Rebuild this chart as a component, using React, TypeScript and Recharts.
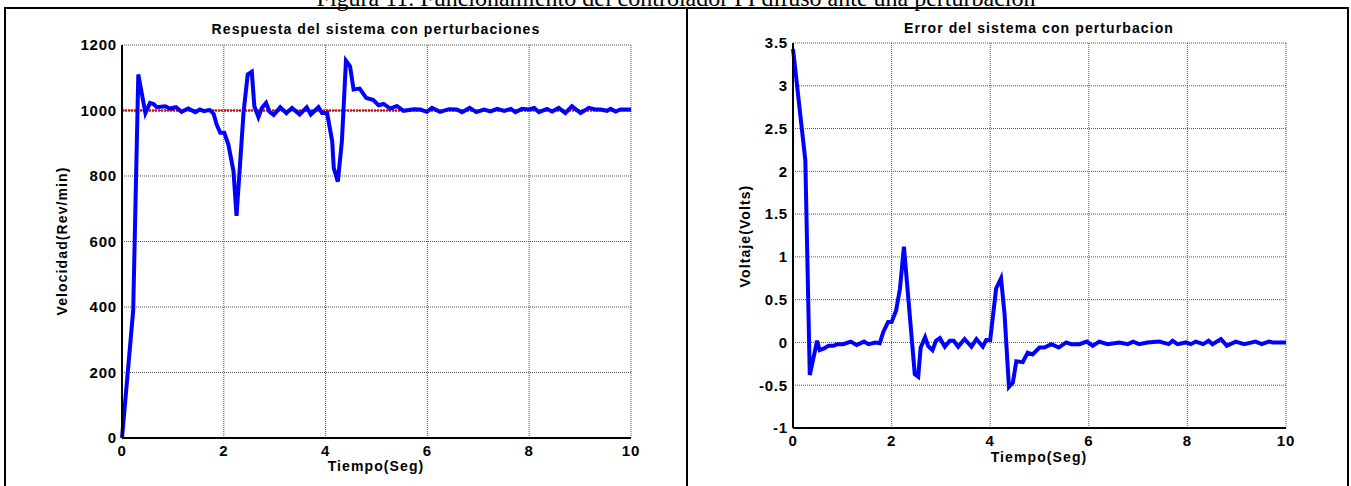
import React from "react";
import {
  LineChart,
  Line,
  XAxis,
  YAxis,
  CartesianGrid,
  ReferenceLine,
} from "recharts";

// Left panel: speed response (Rev/min) vs time (s)
const speedTime = [
  0, 0.22, 0.32, 0.46, 0.55, 0.62, 0.68, 0.85, 0.94, 1.06, 1.17, 1.3, 1.44, 1.53, 1.61, 1.72, 1.8,
  1.86, 1.93, 2.01, 2.09, 2.19, 2.25, 2.39, 2.47, 2.55, 2.6, 2.68, 2.75, 2.83, 2.9, 2.98, 3.11,
  3.23, 3.34, 3.49, 3.63, 3.71, 3.86, 3.93, 4.03, 4.13, 4.16, 4.24, 4.32, 4.4, 4.48, 4.55, 4.67,
  4.8, 4.93, 5.04, 5.14, 5.27, 5.4, 5.53, 5.73, 5.86, 5.99, 6.09, 6.25, 6.42, 6.58, 6.68, 6.83,
  6.96, 7.11, 7.24, 7.37, 7.51, 7.64, 7.73, 7.86, 7.99, 8.1, 8.19, 8.35, 8.45, 8.58, 8.71, 8.84,
  9.01, 9.17, 9.3, 9.4, 9.53, 9.6, 9.7, 9.79, 10,
];
const speedValues = [
  0, 390, 1110, 992, 1023, 1020, 1010, 1013, 1006, 1010, 996, 1006, 995, 1003, 998, 1002, 990,
  957, 932, 932, 896, 815, 678, 998, 1110, 1118, 1013, 980, 1008, 1023, 996, 986, 1010,
  992, 1008, 988, 1010, 988, 1010, 992, 992, 906, 825, 783, 906, 1152, 1135, 1064, 1067,
  1038, 1033, 1016, 1020, 1006, 1014, 999, 1004, 1003, 996, 1008, 996, 1004, 1003, 995, 1008,
  995, 1003, 997, 1005, 999, 1005, 995, 1005, 1003, 1008, 995, 1005, 997, 1008, 992, 1013,
  992, 1008, 1003, 1003, 999, 1005, 997, 1003, 1003,
];
const speedSetpoint = 1000;
const speedTicks = [0, 200, 400, 600, 800, 1000, 1200];

// Right panel: error (Volts) vs time (s)
const errorTime = [
  0, 0.25, 0.34, 0.49, 0.54, 0.63, 0.72, 0.82, 0.9, 1.02, 1.17, 1.29, 1.44, 1.53, 1.67, 1.76,
  1.83, 1.93, 2.0, 2.09, 2.17, 2.25, 2.47, 2.54, 2.59, 2.68, 2.74, 2.83, 2.9, 2.98, 3.08, 3.18,
  3.26, 3.35, 3.48, 3.62, 3.72, 3.85, 3.92, 4.0, 4.12, 4.22, 4.29, 4.38, 4.46, 4.53, 4.66, 4.76,
  4.86, 5.0, 5.1, 5.24, 5.39, 5.54, 5.64, 5.81, 5.96, 6.08, 6.21, 6.38, 6.62, 6.79, 6.9, 7.02,
  7.19, 7.43, 7.62, 7.7, 7.8, 7.97, 8.07, 8.17, 8.32, 8.43, 8.51, 8.68, 8.8, 8.98, 9.15, 9.38,
  9.51, 9.65, 9.73, 10,
];
const errorValues = [
  3.43, 2.13, -0.38, 0.02, -0.09, -0.07, -0.04, -0.04, -0.02, -0.02, 0.01, -0.03, 0.01, -0.02, 0.0, -0.01,
  0.12, 0.24, 0.24, 0.37, 0.63, 1.12, -0.37, -0.4, -0.06, 0.06, -0.04, -0.09, 0.02, 0.05, -0.05, 0.02,
  0.02, -0.05, 0.04, -0.05, 0.04, -0.05, 0.03, 0.03, 0.63, 0.75, 0.34, -0.52, -0.47, -0.22, -0.23, -0.12,
  -0.14, -0.06, -0.06, -0.02, -0.06, 0.0, -0.02, -0.02, 0.01, -0.04, 0.01, -0.02, 0.0, -0.02, 0.01, -0.02,
  0.0, 0.01, -0.02, 0.02, -0.02, 0.0, -0.02, 0.01, -0.02, 0.02, -0.02, 0.04, -0.04, 0.01, -0.02, 0.01,
  -0.02, 0.01, 0.0, 0.0,
];
const errorTicks = [-1, -0.5, 0, 0.5, 1, 1.5, 2, 2.5, 3, 3.5];

const timeTicks = [0, 2, 4, 6, 8, 10];

const speedData = speedTime.map((t, i) => ({ t, v: speedValues[i] }));
const errorData = errorTime.map((t, i) => ({ t, e: errorValues[i] }));

const SANS = "'Liberation Sans', Arial, sans-serif";
const tickStyle = { fontFamily: SANS, fontWeight: 700, fontSize: 15, fill: "#000", letterSpacing: 0.8 };

const textStyle: React.CSSProperties = {
  position: "absolute",
  fontFamily: SANS,
  fontWeight: 700,
  fontSize: 14,
  letterSpacing: 1.1,
  whiteSpace: "nowrap",
  transform: "translate(-50%, -50%)",
  lineHeight: 1,
};

export default function App() {
  return (
    <div style={{ position: "absolute", left: 0, top: 0, width: 1351, height: 486, background: "#fff", overflow: "hidden" }}>
      {/* figure caption, cut off at the top like the source */}
      <div
        style={{
          position: "absolute",
          left: 676,
          top: -14,
          transform: "translateX(-50%)",
          fontFamily: "'Liberation Serif', 'Times New Roman', serif",
          fontSize: 24,
          lineHeight: "24px",
          whiteSpace: "nowrap",
        }}
      >
        Figura 11. Funcionamiento del controlador PI difuso ante una perturbación
      </div>

      {/* outer frame and divider */}
      <div style={{ position: "absolute", left: 4, top: 7, width: 1341, height: 500, border: "2px solid #000" }} />
      <div style={{ position: "absolute", left: 686, top: 7, width: 2, height: 500, background: "#000" }} />

      {/* left chart */}
      <div style={{ position: "absolute", left: 0, top: 0 }}>
        <LineChart width={680} height={486} data={speedData} margin={{ top: 45, right: 49, bottom: 18, left: 62 }}>
          <CartesianGrid stroke="#555" strokeDasharray="1 1" />
          <XAxis
            dataKey="t"
            type="number"
            domain={[0, 10]}
            ticks={timeTicks}
            height={30}
            tickSize={0}
            tickMargin={7}
            tick={tickStyle}
            axisLine={{ stroke: "#000", strokeWidth: 2 }}
          />
          <XAxis xAxisId="top" orientation="top" type="number" domain={[0, 10]} height={0} tick={false} tickLine={false} axisLine={{ stroke: "#000", strokeWidth: 1.5 }} />
          <YAxis
            type="number"
            domain={[0, 1200]}
            ticks={speedTicks}
            width={60}
            tickSize={0}
            tickMargin={5}
            tick={tickStyle}
            axisLine={{ stroke: "#000", strokeWidth: 2 }}
          />
          <YAxis yAxisId="right" orientation="right" type="number" domain={[0, 1200]} width={0} tick={false} tickLine={false} axisLine={{ stroke: "#000", strokeWidth: 1.5 }} />
          <ReferenceLine y={speedSetpoint} stroke="#ff0000" strokeWidth={2.5} strokeDasharray="2 1" />
          <Line type="linear" dataKey="v" stroke="#0000ff" strokeWidth={4} dot={false} isAnimationActive={false} />
        </LineChart>
      </div>

      {/* right chart */}
      <div style={{ position: "absolute", left: 687, top: 0 }}>
        <LineChart width={664} height={486} data={errorData} margin={{ top: 43, right: 65, bottom: 28, left: 46 }}>
          <CartesianGrid stroke="#555" strokeDasharray="1 1" />
          <XAxis
            dataKey="t"
            type="number"
            domain={[0, 10]}
            ticks={timeTicks}
            height={30}
            tickSize={0}
            tickMargin={7}
            tick={tickStyle}
            axisLine={{ stroke: "#000", strokeWidth: 2 }}
          />
          <XAxis xAxisId="top" orientation="top" type="number" domain={[0, 10]} height={0} tick={false} tickLine={false} axisLine={{ stroke: "#000", strokeWidth: 1.5 }} />
          <YAxis
            type="number"
            domain={[-1, 3.5]}
            ticks={errorTicks}
            width={60}
            tickSize={0}
            tickMargin={5}
            tick={tickStyle}
            axisLine={{ stroke: "#000", strokeWidth: 2 }}
          />
          <YAxis yAxisId="right" orientation="right" type="number" domain={[-1, 3.5]} width={0} tick={false} tickLine={false} axisLine={{ stroke: "#000", strokeWidth: 1.5 }} />
          <Line type="linear" dataKey="e" stroke="#0000ff" strokeWidth={4} dot={false} isAnimationActive={false} />
        </LineChart>
      </div>

      {/* titles and axis labels */}
      <div style={{ ...textStyle, left: 376, top: 29 }}>Respuesta del sistema con perturbaciones</div>
      <div style={{ ...textStyle, left: 1039, top: 28 }}>Error del sistema con perturbacion</div>
      <div style={{ ...textStyle, left: 376, top: 466 }}>Tiempo(Seg)</div>
      <div style={{ ...textStyle, left: 1039, top: 457 }}>Tiempo(Seg)</div>
      <div style={{ ...textStyle, left: 62, top: 241, transform: "translate(-50%, -50%) rotate(-90deg)" }}>Velocidad(Rev/min)</div>
      <div style={{ ...textStyle, left: 745, top: 236, transform: "translate(-50%, -50%) rotate(-90deg)" }}>Voltaje(Volts)</div>
    </div>
  );
}
